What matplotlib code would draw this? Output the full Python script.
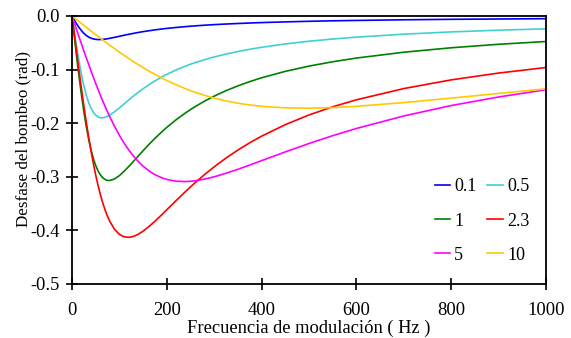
import matplotlib
matplotlib.use("Agg")
import matplotlib.pyplot as plt

# Modulation frequency (Hz)
freq = [0, 5, 10, 15, 20, 25, 30, 35, 40, 45, 50, 55, 60, 65, 70, 75, 80, 90,
        100, 110, 120, 130, 140, 150, 165, 175, 190, 200, 220, 240, 250, 260,
        280, 300, 325, 350, 375, 400, 450, 500, 550, 600, 700, 800, 900, 1000]

# Pump phase shift (rad) for each parameter value
phase_01 = [0.0, -0.0077, -0.0150, -0.0217, -0.0275, -0.0324, -0.0363, -0.0392,
            -0.0414, -0.0428, -0.0436, -0.0440, -0.0439, -0.0436, -0.0431,
            -0.0424, -0.0416, -0.0398, -0.0379, -0.0359, -0.0341, -0.0324,
            -0.0307, -0.0292, -0.0272, -0.0259, -0.0242, -0.0232, -0.0214,
            -0.0198, -0.0191, -0.0184, -0.0172, -0.0161, -0.0150, -0.0140,
            -0.0131, -0.0123, -0.0110, -0.0099, -0.0090, -0.0083, -0.0071,
            -0.0062, -0.0056, -0.0050]
phase_05 = [0.0, -0.0300, -0.0588, -0.0856, -0.1096, -0.1303, -0.1475, -0.1613,
            -0.1720, -0.1797, -0.1850, -0.1883, -0.1898, -0.1899, -0.1890,
            -0.1872, -0.1847, -0.1785, -0.1714, -0.1639, -0.1564, -0.1491,
            -0.1422, -0.1357, -0.1266, -0.1211, -0.1135, -0.1089, -0.1006,
            -0.0933, -0.0900, -0.0870, -0.0814, -0.0764, -0.0710, -0.0663,
            -0.0621, -0.0584, -0.0522, -0.0471, -0.0430, -0.0395, -0.0339,
            -0.0297, -0.0265, -0.0239]
phase_1 = [0.0, -0.0392, -0.0775, -0.1139, -0.1477, -0.1785, -0.2057, -0.2293,
           -0.2493, -0.2658, -0.2790, -0.2892, -0.2967, -0.3020, -0.3052,
           -0.3068, -0.3069, -0.3039, -0.2978, -0.2897, -0.2806, -0.2709,
           -0.2611, -0.2513, -0.2372, -0.2283, -0.2157, -0.2078, -0.1934,
           -0.1805, -0.1746, -0.1690, -0.1587, -0.1495, -0.1393, -0.1304,
           -0.1224, -0.1153, -0.1033, -0.0935, -0.0854, -0.0785, -0.0676,
           -0.0593, -0.0528, -0.0476]
phase_23 = [0.0, -0.0349, -0.0695, -0.1033, -0.1361, -0.1675, -0.1973, -0.2252,
            -0.2511, -0.2750, -0.2968, -0.3163, -0.3337, -0.3491, -0.3624,
            -0.3739, -0.3837, -0.3983, -0.4074, -0.4120, -0.4130, -0.4111,
            -0.4071, -0.4014, -0.3908, -0.3829, -0.3702, -0.3615, -0.3441,
            -0.3271, -0.3188, -0.3109, -0.2956, -0.2814, -0.2650, -0.2501,
            -0.2365, -0.2242, -0.2027, -0.1847, -0.1694, -0.1564, -0.1354,
            -0.1192, -0.1065, -0.0961]
phase_5 = [0.0, -0.0132, -0.0263, -0.0393, -0.0522, -0.0650, -0.0776, -0.0900,
           -0.1022, -0.1142, -0.1258, -0.1371, -0.1481, -0.1588, -0.1691,
           -0.1790, -0.1885, -0.2064, -0.2227, -0.2373, -0.2503, -0.2618,
           -0.2717, -0.2803, -0.2906, -0.2960, -0.3021, -0.3050, -0.3083,
           -0.3089, -0.3084, -0.3074, -0.3043, -0.3000, -0.2934, -0.2860,
           -0.2781, -0.2699, -0.2536, -0.2379, -0.2233, -0.2099, -0.1865,
           -0.1671, -0.1511, -0.1376]
phase_10 = [0.0, -0.0035, -0.0070, -0.0105, -0.0140, -0.0175, -0.0210, -0.0244,
            -0.0279, -0.0313, -0.0347, -0.0381, -0.0415, -0.0448, -0.0482,
            -0.0514, -0.0547, -0.0611, -0.0674, -0.0735, -0.0795, -0.0853,
            -0.0909, -0.0963, -0.1040, -0.1090, -0.1160, -0.1204, -0.1285,
            -0.1359, -0.1393, -0.1424, -0.1482, -0.1532, -0.1585, -0.1627,
            -0.1660, -0.1685, -0.1714, -0.1720, -0.1709, -0.1685, -0.1616,
            -0.1532, -0.1445, -0.1359]

labels = ["0.1", "0.5", "1", "2.3", "5", "10"]
series = [phase_01, phase_05, phase_1, phase_23, phase_5, phase_10]
colors = ["#0000FF", "#40D0D0", "#008000", "#FF0000", "#FF00FF", "#FFC800"]

xticks = [0, 200, 400, 600, 800, 1000]
yticks = [0.0, -0.1, -0.2, -0.3, -0.4, -0.5]

plt.rcParams["font.family"] = ["Liberation Serif", "DejaVu Serif"]

fig = plt.figure(figsize=(5.71, 3.38), dpi=100)
ax = fig.add_axes([0.1261, 0.1598, 0.8301, 0.7929])

lines = {}
for vals, lab, col in zip(series, labels, colors):
    lines[lab], = ax.plot(freq, vals, color=col, lw=1.2, label=lab)

ax.set_xlim(0, 1000)
ax.set_ylim(-0.5, 0.0)
ax.set_xticks(xticks)
ax.set_xticklabels([str(t) for t in xticks])
ax.set_yticks(yticks)
ax.set_yticklabels([f"{t:.1f}" if t != 0 else "0.0" for t in yticks])

for sp in ax.spines.values():
    sp.set_linewidth(1.3)
    sp.set_color("black")

ax.tick_params(axis="both", direction="inout", length=9, width=1.2,
               labelsize=13.3, colors="black")
ax.tick_params(axis="x", pad=8.5)
ax.tick_params(axis="y", pad=4.5)

ax.set_xlabel("Frecuencia de modulación ( Hz )", fontsize=13.3)
ax.set_ylabel("Desfase del bombeo (rad)", fontsize=12.3)
ax.xaxis.set_label_coords(0.5, -0.132)
ax.yaxis.set_label_coords(-0.086, 0.541)

# Row-wise legend in two columns: (0.1, 0.5), (1, 2.3), (5, 10)
order = ["0.1", "1", "5", "0.5", "2.3", "10"]
ax.legend([lines[k] for k in order], order, ncol=2, frameon=False,
          fontsize=13, loc="center", bbox_to_anchor=(0.865, 0.235),
          handlelength=0.87, handletextpad=0.22, columnspacing=0.6,
          labelspacing=0.95)

fig.savefig("out.png", dpi=100)
